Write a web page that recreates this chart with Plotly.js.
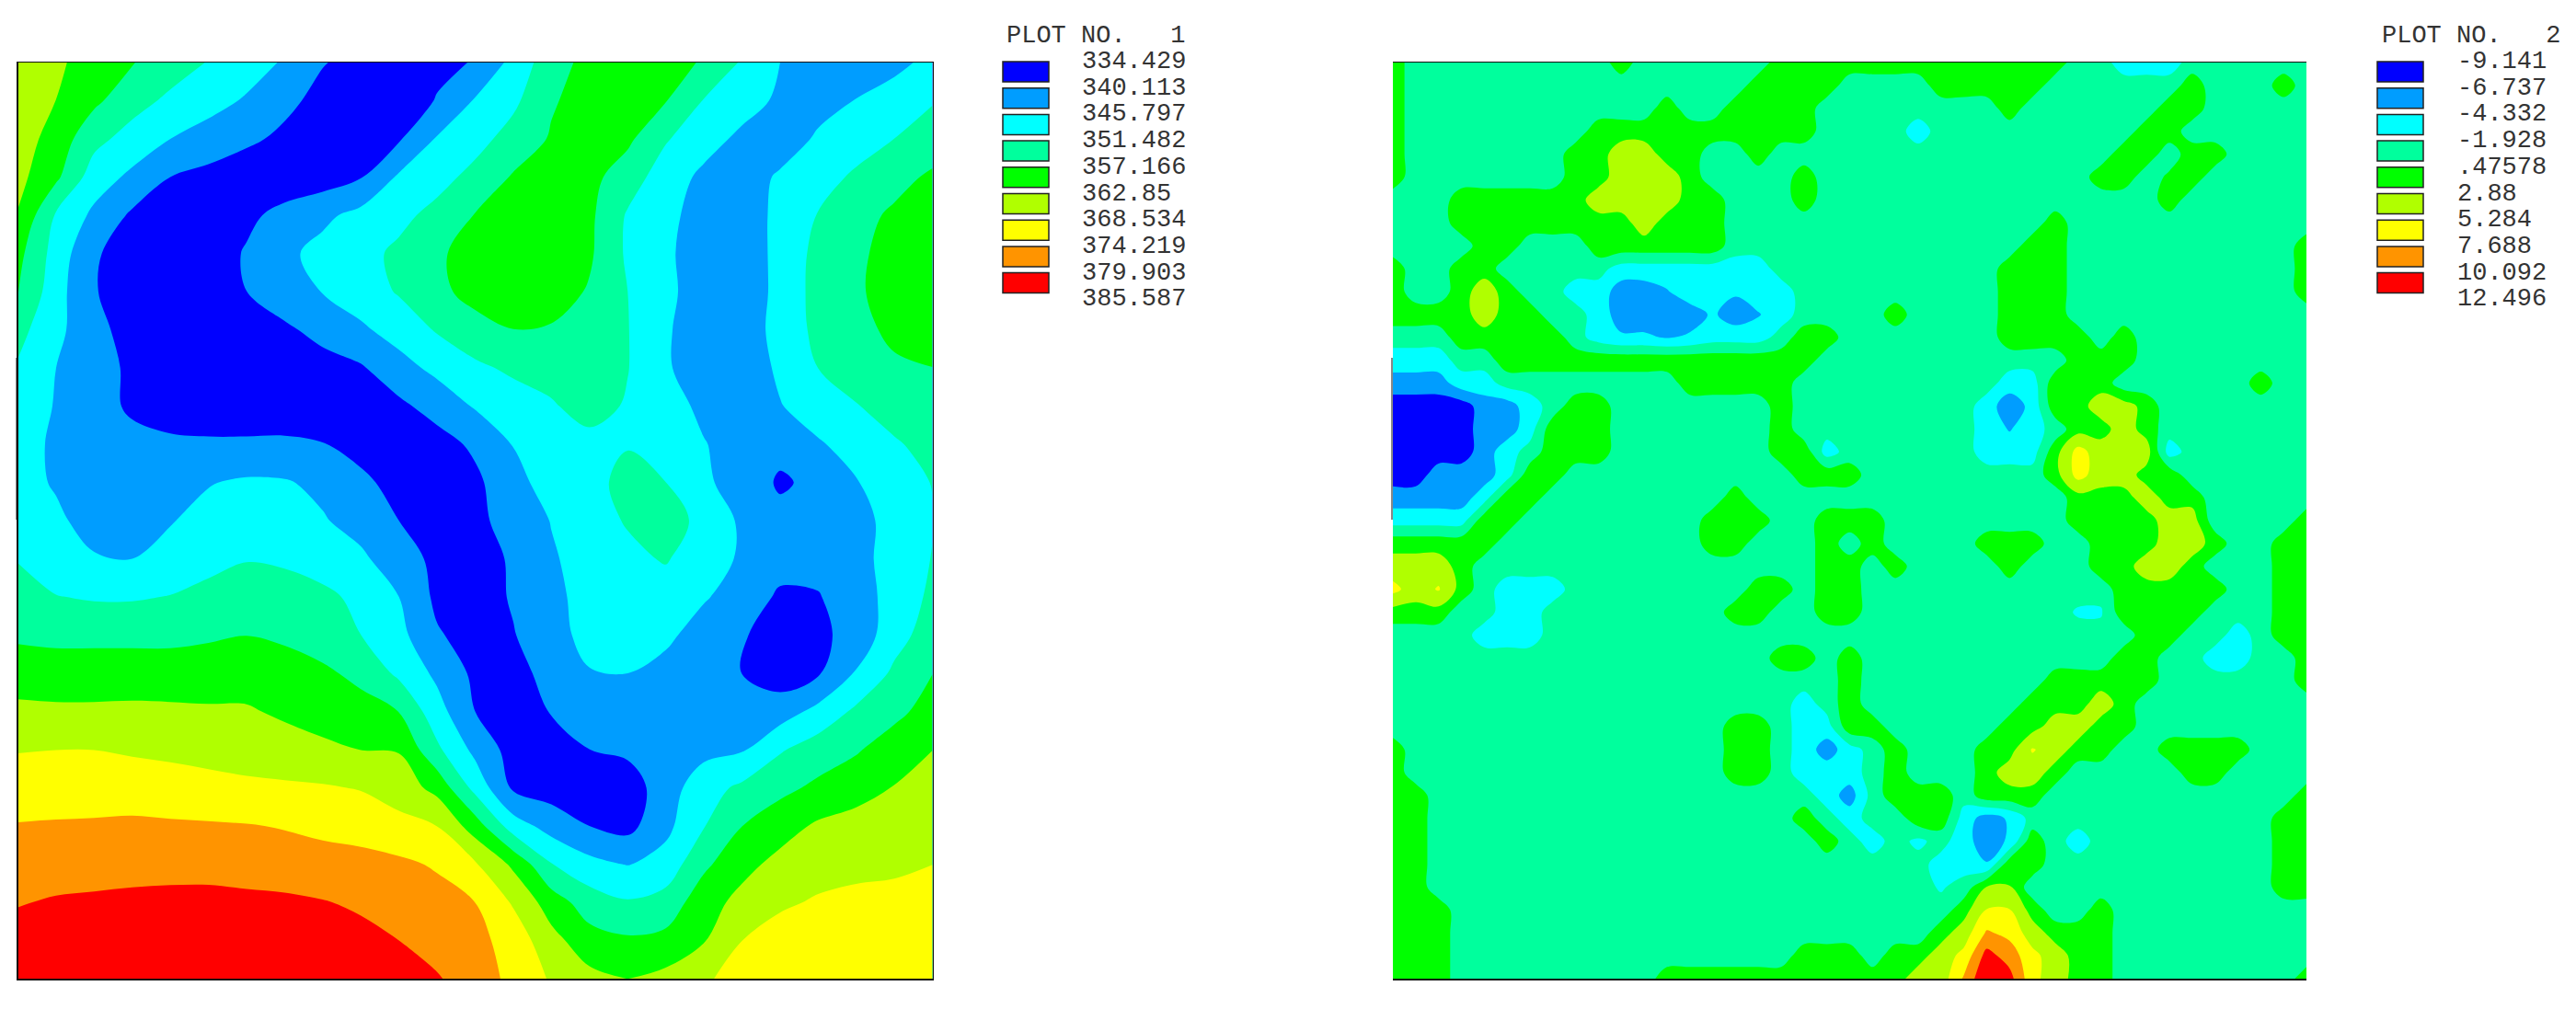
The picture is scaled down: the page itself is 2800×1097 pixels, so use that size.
<!DOCTYPE html>
<html>
<head>
<meta charset="utf-8">
<title>Plot no. 1 and 2</title>
<script src="https://cdn.plot.ly/plotly-3.0.1.min.js"></script>
<style>
    html, body { margin: 0; padding: 0; background: #fff; }
    #chart { width: 2800px; height: 1097px; }
</style>
</head>
<body>
<div id="chart"></div>
<script>
// Band colours, lowest to highest
const bandColors = ["#0000ff", "#009dff", "#00ffff", "#00ff9d", "#00ff00", "#b0ff00", "#ffff00", "#ff9400", "#ff0000"];

// Legend labels
const labels1 = ["334.429", "340.113", "345.797", "351.482", "357.166", "362.85", "368.534", "374.219", "379.903", "385.587"];
const labels2 = ["-9.141", "-6.737", "-4.332", "-1.928", ".47578", "2.88", "5.284", "7.688", "10.092", "12.496"];

const levelStart1 = 334.429, levelEnd1 = 385.587;
const levelStart2 = -9.141, levelEnd2 = 12.496;

// Plot 1 values, rows top to bottom
const plot1 = [
    [366.8,364,360,357.4,354.3,351.2,348.3,345.2,340.4,338.4,337.3,339,340.4,347.5,354.9,358.8,360,359.4,356.6,350.9,345.8,343.5,343,344.1,347.5],
    [367.4,362.8,358.3,353.7,350.3,347.8,345.2,341.5,338.4,336.7,337.3,340.4,346.3,350.3,356.6,359.4,360,357.4,351.2,348,344.9,343,346,348.6,351.2],
    [365.7,360.5,353.2,349.2,345.8,343.5,341.2,338.9,337.3,336.1,339.5,346.3,349.5,353.7,357.7,360,358.3,352,348,344.6,341.5,346.9,349.2,351.5,353.4],
    [364.5,358.3,348.6,344.6,340.1,338.4,336.7,336.1,337.3,339.8,346.6,349.5,353.2,357.7,360,358.8,354.3,348.6,344.6,341.8,346.9,349.5,352.3,354.9,358.3],
    [362.5,350.9,344.6,339.2,337.3,336.1,338.7,342.1,344.6,347.5,350,353.2,357.4,359.4,360.5,358.3,350.9,346.9,344.1,341.2,348,351.7,354.9,358.3,360.5],
    [358.8,349.2,340.7,337.8,336.7,336.7,340.7,344.6,347.5,349.7,352.6,356.3,359.4,360.5,360.5,358,350.6,346.6,343.5,341.2,348,352.9,356,359.4,361.1],
    [357.7,348,340.4,337.8,336.7,337.3,340.1,343.2,346,348.6,352,356,358.8,360.5,360,356.6,351.5,346.9,343.5,340.9,348,353.2,356.3,359.7,361.1],
    [353.2,347.5,341.2,338.7,337.3,336.7,337.8,339.2,341.8,344.9,348,352,355.4,357.1,356.6,354.3,351.7,346.3,343.5,341.2,348.6,352.6,354.9,358.8,360],
    [350.9,345.8,342.1,339.2,337.8,337.3,337,337.3,338.1,339.5,343.8,347.2,350.3,352.6,353.7,353.2,351.7,346.3,343.5,341.8,346.9,351.5,354.3,356,357.1],
    [348.6,345.5,342.4,339.2,338.1,337.8,337.8,338.1,337.3,337.3,338.9,342.4,346.3,348.6,350.9,353.7,350.9,347.5,344.9,343,345.5,348.6,351.2,353.7,355.4],
    [348,344.9,342.6,341.8,340.9,340.7,340.7,340.7,340.3,338.4,337.3,337.8,341.2,346,348,349.7,351.2,349.2,346,344.1,341.5,345.2,348,350.9,353.2],
    [348,345.2,343,342.4,343.5,345.5,346.6,346.3,344.4,341.2,338.4,337.3,338.9,344.1,348,350,352.9,351.5,346.9,343,339.5,341.2,345.5,348.6,351.7],
    [347.5,346.9,343.5,342.6,345.5,347.5,348.6,348,346.3,343.5,340.1,337.5,338.7,342.4,346,348.9,352,354.3,349.7,344.9,341.5,342.4,344.1,347.5,351.2],
    [351.2,348,346.3,345.8,347.5,349.7,351.2,350.6,349.2,346.9,342.4,338.9,337.5,340.9,345.2,348,350,352,348,345.2,342.4,341.8,344.1,347.8,351.7],
    [353.7,351.7,350.9,350.9,351.7,353.2,354.3,354,352.6,350.3,345.8,338.9,337.3,340.7,344.6,347.5,349.2,348.6,346.3,343.5,339.2,339.8,343,348,352.6],
    [356.3,356,356,356,356,356.6,357.1,356.3,354.9,351.5,347.5,340.7,337.8,339.8,343.8,347.5,348.6,346.9,343.5,340.7,337.3,338.9,342.1,349.2,354.3],
    [360,359.4,359.4,359.4,359.4,359.4,360.5,359.4,358,356,350.3,344.6,338.9,338.4,341.8,345.5,345.8,344.1,341.8,340.1,337.3,339.5,346.3,352.6,357.1],
    [364.2,364,364,364.2,364,363.7,363.4,362,361.1,358.8,357.1,348,340.1,337.8,340.4,341.8,342.4,342.4,342.4,342.6,343,347.5,352.6,355.7,359.4],
    [368.2,368.5,368.5,367.9,367.4,366.8,366.2,365.1,363.7,362.8,362.5,352.6,344.3,337.8,337,340.1,341.2,343,344.1,345.2,350.9,354.3,356.6,360,362.8],
    [371.6,371.3,371.3,371.3,370.8,370.2,369.6,369.4,369.1,368.2,366,361.1,349.7,339.2,337.5,337,337.3,343,349.2,352.6,355.7,358.3,360.5,363.1,365.1],
    [374.5,374.8,375,375.3,375,374.8,374.5,373.9,373,372.2,370.2,368.5,360,348.6,343.5,340.1,338.4,344.3,351.2,357.1,360.5,363.7,365.1,366.2,367.4],
    [377.3,377.6,377.9,378.2,378.2,377.9,377.3,376.7,376.2,375.9,375.3,373.6,369.1,361.7,351.7,347.5,345.5,348,356,361.1,364.5,366.5,367.4,367.7,368.5],
    [379.6,380.4,380.7,381,381.3,381.6,381.3,381,380.2,379,377.6,376.2,374.2,367.9,360,354.3,352,353.7,360.5,364.5,367.7,369.1,369.6,369.9,370.2],
    [381.9,382.7,383,383.3,383.3,383.6,383.3,383,382.4,381.6,379.9,377.6,375.9,371.9,364.8,359.4,358,358.8,362.5,368.5,370.8,371.3,371.6,371.9,371.9],
    [383.9,384.7,385,385.3,385.3,385.6,385.3,385,384.4,383.6,382.1,380.4,377,372.8,367.9,364.5,362.8,364.5,367.7,370.8,372.5,373,373.3,373.3,373.6]
];

// Plot 2 values, rows top to bottom
const plot2 = [
    [2,-1,-1,-1,-1,  -1,-1,-1,-1,-1,  2,-1,-1,-1,-1,  -1,-1,2,2,2,  2,2,2,2,2,  2,2,2,2,2,  -1,-1,-3,-3,-3,  -1,-1,-1,-1,-1,  -1],
    [2,-1,-1,-1,-1,  -1,-1,-1,-1,-1,  -1,-1,-1,-1,-1,  -1,2,2,2,2,  -1,-1,-1,-1,2,  2,2,2,2,-1,  -1,-1,-1,-1,-1,  2,-1,-1,-1,2,  -1],
    [2,-1,-1,-1,-1,  -1,-1,-1,-1,-1,  -1,-1,2,-1,-1,  2,2,2,2,-1,  -1,-1,-1,-1,-1,  -1,-1,2,-1,-1,  -1,-1,-1,-1,2,  2,-1,-1,-1,-1,  -1],
    [2,-1,-1,-1,-1,  -1,-1,-1,-1,2,  2,2,2,2,2,  2,2,2,2,-1,  -1,-1,-1,-3,-1,  -1,-1,-1,-1,-1,  -1,-1,-1,2,2,  -1,-1,-1,-1,-1,  -1],
    [2,-1,-1,-1,-1,  -1,-1,-1,2,2,  4,4,2,2,-1,  -1,2,-1,-1,-1,  -1,-1,-1,-1,-1,  -1,-1,-1,-1,-1,  -1,-1,2,2,-1,  2,2,-1,-1,-1,  -1],
    [2,-1,-1,-1,-1,  -1,-1,-1,2,2,  4,4,4,2,-1,  -1,-1,-1,2,-1,  -1,-1,-1,-1,-1,  -1,-1,-1,-1,-1,  -1,2,2,-1,1,  2,-1,-1,-1,-1,  -1],
    [-1,-1,-1,2,2,  2,2,2,2,4,  4,4,4,2,2,  -1,-1,-1,2,-1,  -1,-1,-1,-1,-1,  -1,-1,-1,-1,-1,  -1,-1,-1,-1,2,  -1,-1,-1,-1,-1,  -1],
    [-1,-1,-1,2,2,  2,2,2,2,2,  2,4,2,2,2,  -1,-1,-1,-1,-1,  -1,-1,-1,-1,-1,  -1,-1,-1,-1,2,  -1,-1,-1,-1,-1,  -1,-1,-1,-1,-1,  -1],
    [-1,-1,-1,-1,2,  2,-1,-1,-1,2,  2,2,2,2,2,  -1,-1,-1,-1,-1,  -1,-1,-1,-1,-1,  -1,-1,-1,2,2,  -1,-1,-1,-1,-1,  -1,-1,-1,-1,-1,  2],
    [2,-1,-1,2,2,  -1,-1,-1,-1,-1,  -3,-3,-3,-3,-3,  -3,-3,-1,-1,-1,  -1,-1,-1,-1,-1,  -1,-1,2,2,2,  -1,-1,-1,-1,-1,  -1,-1,-1,-1,-1,  2],
    [2,-1,-1,2,4,  2,-1,-1,-3,-3,  -5.5,-5.5,-4.5,-3,-3,  -4,-3,-3,-1,-1,  -1,-1,-1,-1,-1,  -1,-1,2,2,2,  -1,-1,-1,-1,-1,  -1,-1,-1,-1,-1,  2],
    [2,2,2,2,4,  2,2,-1,-1,-3,  -5.5,-5.5,-5.5,-5.5,-4,  -5.5,-4.5,-3,-1,-1,  -1,-1,2,-1,-1,  -1,-1,2,2,2,  -1,-1,-1,-1,-1,  -1,-1,-1,-1,-1,  -1],
    [-1,-1,-1,2,2,  2,2,2,-1,-3,  -4,-4,-4.5,-4,-3,  -3,-3,-1,2,2,  -1,-1,-1,-1,-1,  -1,-1,2,2,2,  2,-1,2,-1,-1,  -1,-1,-1,-1,-1,  -1],
    [-3,-3,-3,-1,-1,  2,2,2,2,2,  2,2,2,2,2,  2,2,2,2,-1,  -1,-1,-1,-1,-1,  -1,-1,-1,-1,-1,  2,2,2,-1,-1,  -1,-1,-1,-1,-1,  -1],
    [-5.5,-5.5,-5.5,-3,-3,  -1,-1,-1,-1,-1,  -1,-1,-1,2,2,  2,2,2,-1,-1,  -1,-1,-1,-1,-1,  -1,-1,-3,-3,2,  2,2,-1,-1,-1,  -1,-1,-1,2,-1,  -1],
    [-8,-8,-8,-8,-5.5,  -5.5,-3,-1,2,2,  -1,-1,-1,-1,-1,  -1,-1,2,-1,-1,  -1,-1,-1,-1,-1,  -1,-3,-6,-3.5,2,  2,4,4,2,-1,  -1,-1,-1,-1,-1,  -1],
    [-8,-8,-8,-8,-5.5,  -5.5,-3,2,2,2,  -1,-1,-1,-1,-1,  -1,-1,2,-1,-1,  -1,-1,-1,-1,-1,  -1,-3,-4.5,-3,-1,  2,2,4,2,-1,  -1,-1,-1,-1,-1,  -1],
    [-8,-8,-8,-8,-5.5,  -3,-1,2,2,2,  -1,-1,-1,-1,-1,  -1,-1,2,2,-3,  -1,-1,-1,-1,-1,  -1,-3,-3,-3,2,  6.2,4,4,4,-3,  -1,-1,-1,-1,-1,  -1],
    [-8,-8,-5.5,-5.5,-5.5,  -3,2,2,-1,-1,  -1,-1,-1,-1,-1,  -1,-1,-1,2,2,  2,-1,-1,-1,-1,  -1,-1,-1,-1,2,  6.2,4,4,2,2,  -1,-1,-1,-1,-1,  -1],
    [-5.5,-5.5,-5.5,-5.5,-3,  2,2,-1,-1,-1,  -1,-1,-1,-1,-1,  2,-1,-1,-1,-1,  -1,-1,-1,-1,-1,  -1,-1,-1,-1,-1,  2,2,2,4,2,  2,-1,-1,-1,-1,  -1],
    [-3,-3,-3,-3,2,  2,-1,-1,-1,-1,  -1,-1,-1,-1,2,  2,2,-1,-1,2,  2,2,-1,-1,-1,  -1,-1,-1,-1,-1,  2,2,2,2,4,  4,-1,-1,-1,-1,  2],
    [2,2,2,2,2,  -1,-1,-1,-1,-1,  -1,-1,-1,-1,2,  2,-1,-1,-1,2,  -1,2,-1,-1,-1,  -1,2,2,2,-1,  -1,2,2,2,4,  4,2,-1,-1,2,  2],
    [4,4,4,2,-1,  -1,-1,-1,-1,-1,  -1,-1,-1,-1,-1,  -1,-1,-1,-1,2,  2,-1,2,-1,-1,  -1,-1,2,-1,-1,  -1,2,2,4,4,  2,-1,-1,-1,2,  2],
    [6,4,5.5,2,-1,  -3,-3,-3,-1,-1,  -1,-1,-1,-1,-1,  -1,2,2,-1,2,  2,-1,-1,-1,-1,  -1,-1,-1,-1,-1,  -1,-1,2,2,2,  2,2,-1,-1,2,  2],
    [2,2,2,-1,-1,  -3,-3,-1,-1,-1,  -1,-1,-1,-1,-1,  2,2,-1,-1,2,  2,-1,-1,-1,-1,  -1,-1,-1,-1,-1,  -2.2,-2.2,2,2,2,  2,-1,-1,-1,2,  2],
    [-1,-1,-1,-1,-3,  -3,-3,-1,-1,-1,  -1,-1,-1,-1,-1,  -1,-1,-1,-1,-1,  -1,-1,-1,-1,-1,  -1,-1,-1,-1,-1,  -1,-1,-1,2,2,  -1,-1,-3,-1,2,  2],
    [-1,-1,-1,-1,-1,  -1,-1,-1,-1,-1,  -1,-1,-1,-1,-1,  -1,-1,2,2,-1,  2,-1,-1,-1,-1,  -1,-1,-1,-1,-1,  -1,-1,2,2,-1,  -1,-3,-3,-1,-1,  2],
    [-1,-1,-1,-1,-1,  -1,-1,-1,-1,-1,  -1,-1,-1,-1,-1,  -1,-1,-1,-1,-1,  2,-1,-1,-1,-1,  -1,-1,-1,-1,2,  2,2,2,2,-1,  -1,-1,-1,-1,-1,  2],
    [-1,-1,-1,-1,-1,  -1,-1,-1,-1,-1,  -1,-1,-1,-1,-1,  -1,-1,-1,-3,-1,  2,-1,-1,-1,-1,  -1,-1,-1,2,2,  2,4,2,-1,-1,  -1,-1,-1,-1,-1,  -1],
    [-1,-1,-1,-1,-1,  -1,-1,-1,-1,-1,  -1,-1,-1,-1,-1,  2,2,-1,-3,-3,  2,2,-1,-1,-1,  -1,-1,2,2,4,  4,2,2,-1,-1,  -1,-1,-1,-1,-1,  -1],
    [2,-1,-1,-1,-1,  -1,-1,-1,-1,-1,  -1,-1,-1,-1,-1,  2,2,-1,-3,-5.5,  -3,-1,2,-1,-1,  -1,2,2,5.5,4,  2,2,-1,-1,2,  2,2,2,-1,-1,  -1],
    [2,-1,-1,-1,-1,  -1,-1,-1,-1,-1,  -1,-1,-1,-1,-1,  2,2,-1,-3,-3,  -3,-1,2,-1,-1,  -1,2,4,4,2,  -1,-1,-1,-1,-1,  2,2,-1,-1,-1,  -1],
    [2,2,-1,-1,-1,  -1,-1,-1,-1,-1,  -1,-1,-1,-1,-1,  -1,-1,-1,-1,-3,  -5.5,-1,2,2,2,  -1,2,2,2,-1,  -1,-1,-1,-1,-1,  -1,-1,-1,-1,-1,  2],
    [2,2,-1,-1,-1,  -1,-1,-1,-1,-1,  -1,-1,-1,-1,-1,  -1,-1,-1,2,-1,  -3,-1,-1,2,2,  -3,-5.5,-4,-1,-1,  -1,-1,-1,-1,-1,  -1,-1,-1,-1,2,  2],
    [2,2,-1,-1,-1,  -1,-1,-1,-1,-1,  -1,-1,-1,-1,-1,  -1,-1,-1,-1,2,  -1,-3,-1,-2.5,-1,  -3.5,-5.5,-4,2,-1,  -3,-1,-1,-1,-1,  -1,-1,-1,-1,2,  2],
    [2,2,-1,-1,-1,  -1,-1,-1,-1,-1,  -1,-1,-1,-1,-1,  -1,-1,-1,-1,-1,  -1,-1,-1,-1,-3,  -3,-4.2,2,2,-1,  -1,-1,-1,-1,-1,  -1,-1,-1,-1,2,  2],
    [2,2,-1,-1,-1,  -1,-1,-1,-1,-1,  -1,-1,-1,-1,-1,  -1,-1,-1,-1,-1,  -1,-1,-1,-1,-2.2,  -1,3,3,-1,-1,  -1,-1,-1,-1,-1,  -1,-1,-1,-1,2,  2],
    [2,2,2,-1,-1,  -1,-1,-1,-1,-1,  -1,-1,-1,-1,-1,  -1,-1,-1,-1,-1,  -1,-1,-1,-1,-1,  2,5.4,5.4,2,-1,  -1,2,-1,-1,-1,  -1,-1,-1,-1,-1,  -1],
    [2,2,2,-1,-1,  -1,-1,-1,-1,-1,  -1,-1,-1,-1,-1,  -1,-1,-1,-1,-1,  -1,-1,-1,-1,2,  4,8,7,4,2,  2,2,-1,-1,-1,  -1,-1,-1,-1,-1,  -1],
    [2,2,2,-1,-1,  -1,-1,-1,-1,-1,  -1,-1,-1,-1,-1,  -1,-1,-1,2,2,  2,-1,2,2,4,  6,11,9,6,4,  2,2,-1,-1,-1,  -1,-1,-1,-1,-1,  -1],
    [2,2,2,-1,-1,  -1,-1,-1,-1,-1,  -1,-1,2,2,2,  2,2,2,2,2,  2,2,2,4,4,  8,12.5,11,6,4,  2,2,-1,-1,-1,  -1,-1,-1,-1,-1,  2]
];

// Contour fill picks colours at the band midpoints, so stops go in tenths
function steppedScale() {
    const scale = [[0, bandColors[0]]];
    bandColors.forEach((c, i) => scale.push([(i + 1) / 10, c]));
    scale.push([1, bandColors[8]]);
    return scale;
}

function contourTrace(z, start, end, xaxis, yaxis) {
    return {
        type: "contour",
        z: z,
        xaxis: xaxis,
        yaxis: yaxis,
        autocontour: false,
        contours: { coloring: "fill", start: start, end: end, size: (end - start) / 9, showlines: false },
        line: { width: 0, smoothing: 1 },
        colorscale: steppedScale(),
        showscale: false,
        hoverinfo: "z"
    };
}

const W = 2800, H = 1097;

function frameAxis(domain, range) {
    return {
        domain: domain,
        range: range,
        showgrid: false,
        zeroline: false,
        showticklabels: false,
        ticks: "",
        showline: true,
        mirror: true,
        linecolor: "#111",
        linewidth: 1.5
    };
}

// Legend block: title, swatches and labels
function addLegend(shapes, annotations, title, labels, titleX, swatchX, labelX) {
    annotations.push({
        text: title, xref: "paper", yref: "paper", x: titleX / W, y: 1 - 38.5 / H,
        xanchor: "left", yanchor: "middle", showarrow: false, borderpad: 0,
        font: { family: "Liberation Mono", size: 27, color: "#333" }
    });
    labels.forEach((label, i) => {
        annotations.push({
            text: label, xref: "paper", yref: "paper", x: labelX / W, y: 1 - (67 + i * 28.7) / H,
            xanchor: "left", yanchor: "middle", showarrow: false, borderpad: 0,
            font: { family: "Liberation Mono", size: 27, color: "#333" }
        });
    });
    bandColors.forEach((color, i) => {
        const top = 67 + i * 28.7;
        shapes.push({
            type: "rect", xref: "paper", yref: "paper",
            x0: swatchX / W, x1: (swatchX + 50) / W,
            y0: 1 - top / H, y1: 1 - (top + 22) / H,
            fillcolor: color,
            line: { color: "#222", width: 1.5 }
        });
    });
}

const shapes = [];
const annotations = [];
addLegend(shapes, annotations, "PLOT NO.   1", labels1, 1093, 1090, 1175);
addLegend(shapes, annotations, "PLOT NO.   2", labels2, 2588, 2584, 2670);

// Short stubs on the left edge of each frame
[18, 1513].forEach(px => {
    shapes.push({
        type: "line", xref: "paper", yref: "paper",
        x0: px / W, x1: px / W, y0: 1 - 389 / H, y1: 1 - 565 / H,
        line: { color: "#111", width: 1 }
    });
});

const layout = {
    width: W,
    height: H,
    margin: { t: 0, b: 0, l: 0, r: 0 },
    paper_bgcolor: "#fff",
    plot_bgcolor: "#fff",
    showlegend: false,
    xaxis: frameAxis([19.5 / W, 1013.5 / W], [0, 24]),
    yaxis: frameAxis([1 - 1064 / H, 1 - 68 / H], [24, 0]),
    xaxis2: frameAxis([1514 / W, 2507 / W], [0, 40]),
    yaxis2: frameAxis([1 - 1064 / H, 1 - 68 / H], [40, 0]),
    shapes: shapes,
    annotations: annotations
};

Plotly.newPlot("chart", [
    contourTrace(plot1, levelStart1, levelEnd1, "x", "y"),
    contourTrace(plot2, levelStart2, levelEnd2, "x2", "y2")
], layout, { displayModeBar: false, staticPlot: true });
</script>
</body>
</html>
